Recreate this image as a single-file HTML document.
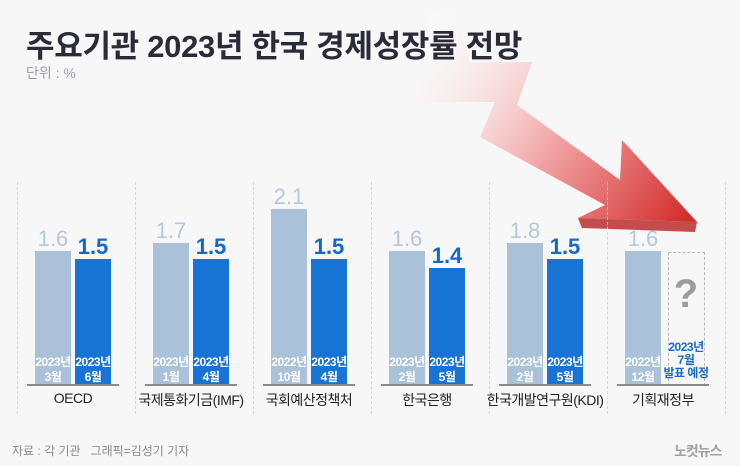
<!DOCTYPE html>
<html><head><meta charset="utf-8"><style>
body{margin:0;width:740px;height:466px;overflow:hidden;background:#f7f7f8;font-family:"Liberation Sans","Noto Sans CJK KR",sans-serif;position:relative}
.a{position:absolute}
.sep{position:absolute;top:182px;height:232px;border-left:1px dashed #d6d6d6}
.bar{position:absolute;width:36px}
.l{background:#a9c1d9}.d{background:#1773d4}
.v{position:absolute;width:60px;text-align:center;font-size:22px;line-height:22px}
.vl{color:#b2c8dd}.vd{color:#1468c8;font-weight:bold}
.lab{position:absolute;width:36px;text-align:center;color:#fff;font-size:12px;line-height:15px;letter-spacing:-0.5px;font-weight:bold}
.base{position:absolute;top:384px;height:2px;width:92px;background:#8a8a92}
.g{position:absolute;top:390px;width:118px;text-align:center;font-size:14px;color:#222;letter-spacing:-0.5px}
</style></head><body>
<svg class="a" style="left:0;top:0" width="740" height="466">
<defs><linearGradient id="gr" x1="420" y1="40" x2="690" y2="225" gradientUnits="userSpaceOnUse">
<stop offset="0" stop-color="#fff" stop-opacity="0.2"/><stop offset="0.5" stop-color="#f2a8a8"/><stop offset="1" stop-color="#d42828"/></linearGradient></defs>
<polygon points="425,10 455,10 470,62 532,62 517,105 620,180 622,140 697,222 578,218 605,205 480,137 495,102 412,102 430,60" fill="url(#gr)"/>
<polygon points="578,218 697,222 695,232 582,228" fill="#b52020" opacity="0.8"/>
</svg>
<div class="a" style="left:26px;top:21px;font-size:31px;font-weight:bold;color:#2b2b38;letter-spacing:-0.3px">주요기관 2023년 한국 경제성장률 전망</div>
<div class="a" style="left:26px;top:63px;font-size:14px;color:#9c9cb4">단위 : %</div>

<div class="sep" style="left:17px"></div><div class="sep" style="left:135px"></div><div class="sep" style="left:253px"></div><div class="sep" style="left:371px"></div><div class="sep" style="left:489px"></div><div class="sep" style="left:607px"></div><div class="sep" style="left:725px"></div>

<div class="bar l" style="left:35px;top:251px;height:134px"></div><div class="bar d" style="left:75px;top:259px;height:126px"></div>
<div class="v vl" style="left:23px;top:228px">1.6</div><div class="v vd" style="left:63px;top:236px">1.5</div>
<div class="lab" style="left:35px;top:355px">2023년<br>3월</div><div class="lab" style="left:75px;top:355px">2023년<br>6월</div>
<div class="base" style="left:27px"></div><div class="g" style="left:14px">OECD</div>

<div class="bar l" style="left:153px;top:243px;height:142px"></div><div class="bar d" style="left:193px;top:259px;height:126px"></div>
<div class="v vl" style="left:141px;top:220px">1.7</div><div class="v vd" style="left:181px;top:236px">1.5</div>
<div class="lab" style="left:153px;top:355px">2023년<br>1월</div><div class="lab" style="left:193px;top:355px">2023년<br>4월</div>
<div class="base" style="left:145px"></div><div class="g" style="left:132px">국제통화기금(IMF)</div>

<div class="bar l" style="left:271px;top:209px;height:176px"></div><div class="bar d" style="left:311px;top:259px;height:126px"></div>
<div class="v vl" style="left:259px;top:186px">2.1</div><div class="v vd" style="left:299px;top:236px">1.5</div>
<div class="lab" style="left:271px;top:355px">2022년<br>10월</div><div class="lab" style="left:311px;top:355px">2023년<br>4월</div>
<div class="base" style="left:263px"></div><div class="g" style="left:250px">국회예산정책처</div>

<div class="bar l" style="left:389px;top:251px;height:134px"></div><div class="bar d" style="left:429px;top:268px;height:117px"></div>
<div class="v vl" style="left:377px;top:228px">1.6</div><div class="v vd" style="left:417px;top:245px">1.4</div>
<div class="lab" style="left:389px;top:355px">2023년<br>2월</div><div class="lab" style="left:429px;top:355px">2023년<br>5월</div>
<div class="base" style="left:381px"></div><div class="g" style="left:368px">한국은행</div>

<div class="bar l" style="left:507px;top:243px;height:142px"></div><div class="bar d" style="left:547px;top:259px;height:126px"></div>
<div class="v vl" style="left:495px;top:220px">1.8</div><div class="v vd" style="left:535px;top:236px">1.5</div>
<div class="lab" style="left:507px;top:355px">2023년<br>2월</div><div class="lab" style="left:547px;top:355px">2023년<br>5월</div>
<div class="base" style="left:499px"></div><div class="g" style="left:486px">한국개발연구원(KDI)</div>

<div class="bar l" style="left:625px;top:251px;height:134px"></div>
<div class="a" style="left:668px;top:252px;width:35px;height:132px;border:1px dashed #b8b8b8"></div>
<div class="v vl" style="left:613px;top:228px">1.6</div>
<div class="a" style="left:668px;top:272px;width:36px;text-align:center;font-size:40px;font-weight:bold;color:#9a9aa0">?</div>
<div class="lab" style="left:625px;top:355px">2022년<br>12월</div>
<div class="lab" style="left:656px;top:341px;width:60px;color:#1a6ccc;line-height:13px">2023년<br>7월<br>발표 예정</div>
<div class="base" style="left:617px"></div><div class="g" style="left:604px">기획재정부</div>

<div class="a" style="left:12px;top:442px;font-size:12px;color:#8a8a8a">자료 : 각 기관 &nbsp; 그래픽=김성기 기자</div>
<div class="a" style="left:674px;top:441px;font-size:14px;font-weight:bold;color:#a0a0a0;letter-spacing:-1px">노컷뉴스</div>
</body></html>
